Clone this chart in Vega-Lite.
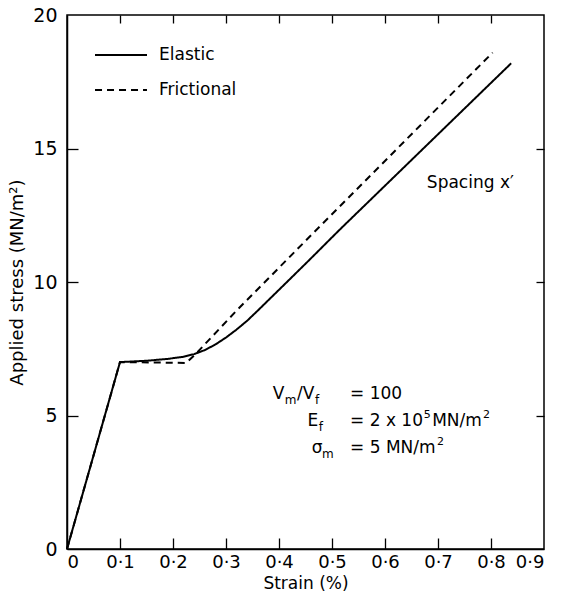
{
  "$schema": "https://vega.github.io/schema/vega-lite/v6.json",
  "width": 477,
  "height": 534,
  "autosize": "none",
  "padding": {"left": 67, "top": 15, "right": 22, "bottom": 49},
  "background": "white",
  "config": {
    "view": {"stroke": "black", "strokeWidth": 1.5},
    "font": "DejaVu Sans",
    "axis": {"domainColor": "black", "domainWidth": 1.5, "tickColor": "black", "tickWidth": 1.3, "labelColor": "black", "titleColor": "black", "grid": false, "labelFont": "DejaVu Sans", "titleFont": "DejaVu Sans", "titleFontWeight": "normal"}
  },
  "datasets": {
    "lines": [
      {"series": "Elastic", "strain": 0, "stress": 0},
      {"series": "Elastic", "strain": 0.1, "stress": 7.0},
      {"series": "Elastic", "strain": 0.15, "stress": 7.05},
      {"series": "Elastic", "strain": 0.19, "stress": 7.12},
      {"series": "Elastic", "strain": 0.22, "stress": 7.2},
      {"series": "Elastic", "strain": 0.24, "stress": 7.3},
      {"series": "Elastic", "strain": 0.26, "stress": 7.45},
      {"series": "Elastic", "strain": 0.28, "stress": 7.66},
      {"series": "Elastic", "strain": 0.3, "stress": 7.92},
      {"series": "Elastic", "strain": 0.32, "stress": 8.22},
      {"series": "Elastic", "strain": 0.34, "stress": 8.55},
      {"series": "Elastic", "strain": 0.36, "stress": 8.93},
      {"series": "Elastic", "strain": 0.38, "stress": 9.32},
      {"series": "Elastic", "strain": 0.414, "stress": 9.98},
      {"series": "Elastic", "strain": 0.458, "stress": 10.84},
      {"series": "Elastic", "strain": 0.514, "stress": 11.95},
      {"series": "Elastic", "strain": 0.838, "stress": 18.19},
      {"series": "Frictional", "strain": 0, "stress": 0},
      {"series": "Frictional", "strain": 0.1, "stress": 7.0},
      {"series": "Frictional", "strain": 0.225, "stress": 6.97},
      {"series": "Frictional", "strain": 0.245, "stress": 7.35},
      {"series": "Frictional", "strain": 0.32, "stress": 8.93},
      {"series": "Frictional", "strain": 0.464, "stress": 11.82},
      {"series": "Frictional", "strain": 0.803, "stress": 18.59}
    ],
    "main": [
      {"x": 0.388, "y": 5.62, "t": "V"},
      {"x": 0.434, "y": 5.62, "t": "/V"},
      {"x": 0.534, "y": 5.62, "t": "= 100"},
      {"x": 0.454, "y": 4.61, "t": "E"},
      {"x": 0.534, "y": 4.61, "t": "= 2 x 10"},
      {"x": 0.689, "y": 4.61, "t": "MN/m"},
      {"x": 0.462, "y": 3.6, "t": "σ"},
      {"x": 0.534, "y": 3.6, "t": "= 5 MN/m"},
      {"x": 0.679, "y": 13.52, "t": "Spacing x′"}
    ],
    "sub": [
      {"x": 0.411, "y": 5.62, "t": "m"},
      {"x": 0.468, "y": 5.62, "t": "f"},
      {"x": 0.475, "y": 4.61, "t": "f"},
      {"x": 0.481, "y": 3.6, "t": "m"}
    ],
    "sup": [
      {"x": 0.673, "y": 4.61, "t": "5"},
      {"x": 0.785, "y": 4.61, "t": "2"},
      {"x": 0.698, "y": 3.6, "t": "2"}
    ]
  },
  "resolve": {"axis": {"x": "independent", "y": "independent"}},
  "layer": [
    {
      "data": {"name": "lines"},
      "mark": {"type": "line", "stroke": "black", "strokeWidth": 2},
      "encoding": {
        "x": {"field": "strain", "type": "quantitative", "scale": {"domain": [0, 0.9], "nice": false},
          "axis": {"orient": "bottom", "values": [0, 0.1, 0.2, 0.3, 0.4, 0.5, 0.6, 0.7, 0.8, 0.9], "ticks": false, "labelPadding": 4, "labelFontSize": 18, "labelExpr": "datum.value == 0 ? '0' : replace(format(datum.value, '.1f'), '.', '·')", "title": "Strain (%)", "titleFontSize": 17, "titlePadding": 4}},
        "y": {"field": "stress", "type": "quantitative", "scale": {"domain": [0, 20], "nice": false},
          "axis": {"orient": "left", "values": [0, 5, 10, 15, 20], "ticks": false, "labelPadding": 10, "labelFontSize": 19, "title": "Applied stress (MN/m²)", "titleFontSize": 18, "titlePadding": 6}},
        "strokeDash": {"field": "series", "type": "nominal",
          "scale": {"domain": ["Elastic", "Frictional"], "range": [[1, 0], [7, 5]]},
          "legend": {"title": null, "orient": "none", "legendX": 27, "legendY": 13, "symbolType": "stroke", "symbolSize": 2700, "symbolStrokeWidth": 2, "symbolStrokeColor": "black", "labelFontSize": 17, "labelFont": "DejaVu Sans", "labelColor": "black", "rowPadding": -24, "labelOffset": 11, "padding": 0}}
      }
    },
    {
      "data": {"name": "lines"},
      "mark": {"type": "point", "opacity": 0},
      "encoding": {
        "x": {"field": "strain", "type": "quantitative", "scale": {"domain": [0, 0.9], "nice": false},
          "axis": {"orient": "top", "offset": -534, "values": [0.1, 0.2, 0.3, 0.4, 0.5, 0.6, 0.7, 0.8], "tickSize": 11, "labels": false, "domain": false, "title": null}},
        "y": {"field": "stress", "type": "quantitative", "scale": {"domain": [0, 20], "nice": false},
          "axis": {"orient": "right", "offset": -477, "values": [5, 10, 15], "tickSize": 11, "labels": false, "domain": false, "title": null}}
      }
    },
    {
      "data": {"name": "lines"},
      "mark": {"type": "point", "opacity": 0},
      "encoding": {
        "x": {"field": "strain", "type": "quantitative", "scale": {"domain": [0, 0.9], "nice": false},
          "axis": {"orient": "bottom", "offset": -534, "values": [0.1, 0.2, 0.3, 0.4, 0.5, 0.6, 0.7, 0.8], "tickSize": 8, "labels": false, "domain": false, "title": null}},
        "y": {"field": "stress", "type": "quantitative", "scale": {"domain": [0, 20], "nice": false},
          "axis": {"orient": "left", "offset": -477, "values": [5, 10, 15], "tickSize": 8, "labels": false, "domain": false, "title": null}}
      }
    },
    {
      "data": {"name": "main"},
      "mark": {"type": "text", "align": "left", "baseline": "alphabetic", "fontSize": 17, "font": "DejaVu Sans", "color": "black"},
      "encoding": {
        "x": {"field": "x", "type": "quantitative", "scale": {"domain": [0, 0.9], "nice": false}, "axis": null},
        "y": {"field": "y", "type": "quantitative", "scale": {"domain": [0, 20], "nice": false}, "axis": null},
        "text": {"field": "t"}
      }
    },
    {
      "data": {"name": "sub"},
      "mark": {"type": "text", "align": "left", "baseline": "alphabetic", "fontSize": 12, "dy": 5, "font": "DejaVu Sans", "color": "black"},
      "encoding": {
        "x": {"field": "x", "type": "quantitative", "scale": {"domain": [0, 0.9], "nice": false}, "axis": null},
        "y": {"field": "y", "type": "quantitative", "scale": {"domain": [0, 20], "nice": false}, "axis": null},
        "text": {"field": "t"}
      }
    },
    {
      "data": {"name": "sup"},
      "mark": {"type": "text", "align": "left", "baseline": "alphabetic", "fontSize": 11, "dy": -8, "font": "DejaVu Sans", "color": "black"},
      "encoding": {
        "x": {"field": "x", "type": "quantitative", "scale": {"domain": [0, 0.9], "nice": false}, "axis": null},
        "y": {"field": "y", "type": "quantitative", "scale": {"domain": [0, 20], "nice": false}, "axis": null},
        "text": {"field": "t"}
      }
    }
  ]
}
